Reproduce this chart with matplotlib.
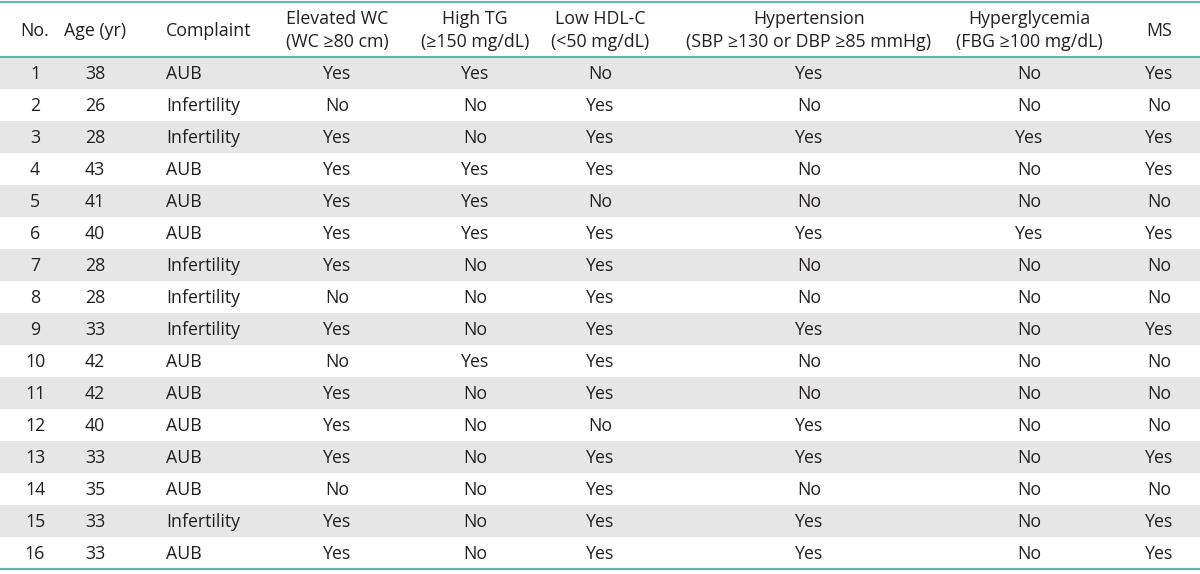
import matplotlib.pyplot as plt
from matplotlib.patches import Rectangle

plt.rcParams['font.family'] = ['Open Sans', 'DejaVu Sans']

# table contents
headers = ["No.", "Age (yr)", "Complaint", "Elevated WC\n(WC \u226580 cm)",
           "High TG\n(\u2265150 mg/dL)", "Low HDL-C\n(<50 mg/dL)",
           "Hypertension\n(SBP \u2265130 or DBP \u226585 mmHg)",
           "Hyperglycemia\n(FBG \u2265100 mg/dL)", "MS"]
case_no = list(range(1, 17))
age = [38, 26, 28, 43, 41, 40, 28, 28, 33, 42, 42, 40, 33, 35, 33, 33]
complaint = ["AUB", "Infertility", "Infertility", "AUB", "AUB", "AUB",
             "Infertility", "Infertility", "Infertility", "AUB", "AUB", "AUB",
             "AUB", "AUB", "Infertility", "AUB"]
elevated_wc = ["Yes", "No", "Yes", "Yes", "Yes", "Yes", "Yes", "No",
               "Yes", "No", "Yes", "Yes", "Yes", "No", "Yes", "Yes"]
high_tg = ["Yes", "No", "No", "Yes", "Yes", "Yes", "No", "No",
           "No", "Yes", "No", "No", "No", "No", "No", "No"]
low_hdl = ["No", "Yes", "Yes", "Yes", "No", "Yes", "Yes", "Yes",
           "Yes", "Yes", "Yes", "No", "Yes", "Yes", "Yes", "Yes"]
hypertension = ["Yes", "No", "Yes", "No", "No", "Yes", "No", "No",
                "Yes", "No", "No", "Yes", "Yes", "No", "Yes", "Yes"]
hyperglycemia = ["No", "No", "Yes", "No", "No", "Yes", "No", "No",
                 "No", "No", "No", "No", "No", "No", "No", "No"]
ms = ["Yes", "No", "Yes", "Yes", "No", "Yes", "No", "No",
      "Yes", "No", "No", "No", "Yes", "No", "Yes", "Yes"]

columns = [case_no, age, complaint, elevated_wc, high_tg, low_hdl,
           hypertension, hyperglycemia, ms]

# layout (pixels)
col_x = [35, 95, 166, 337, 475, 600, 809, 1029, 1159]
col_align = ["center", "center", "left"] + ["center"] * 6
header_top, header_bottom = 2, 57
row_h = 32
line_color = "#5bb8b0"
stripe = "#e6e6e6"
text_color = "#231f20"
fs = 12.8

fig = plt.figure(figsize=(12, 5.74), dpi=100)
ax = fig.add_axes([0, 0, 1, 1])
ax.set_xlim(0, 1200)
ax.set_ylim(574, 0)
ax.axis("off")

n = len(case_no)
for i in range(n):
    y0 = header_bottom + i * row_h
    if i % 2 == 0:
        ax.add_patch(Rectangle((0, y0), 1200, row_h, color=stripe, lw=0))
    for j, col in enumerate(columns):
        ax.text(col_x[j], y0 + row_h / 2 + 1, str(col[i]), ha=col_align[j],
                va="center", fontsize=fs, color=text_color)

for j, h in enumerate(headers):
    ax.text(col_x[j], (header_top + header_bottom) / 2 + 1, h, ha=col_align[j],
            va="center", fontsize=fs, color=text_color, linespacing=1.3,
            multialignment="center")

bottom = header_bottom + n * row_h
for y in (header_top, header_bottom, bottom):
    ax.plot([0, 1200], [y, y], color=line_color, lw=1.5, solid_capstyle="butt")

plt.savefig("out.png", dpi=100)
plt.close()
